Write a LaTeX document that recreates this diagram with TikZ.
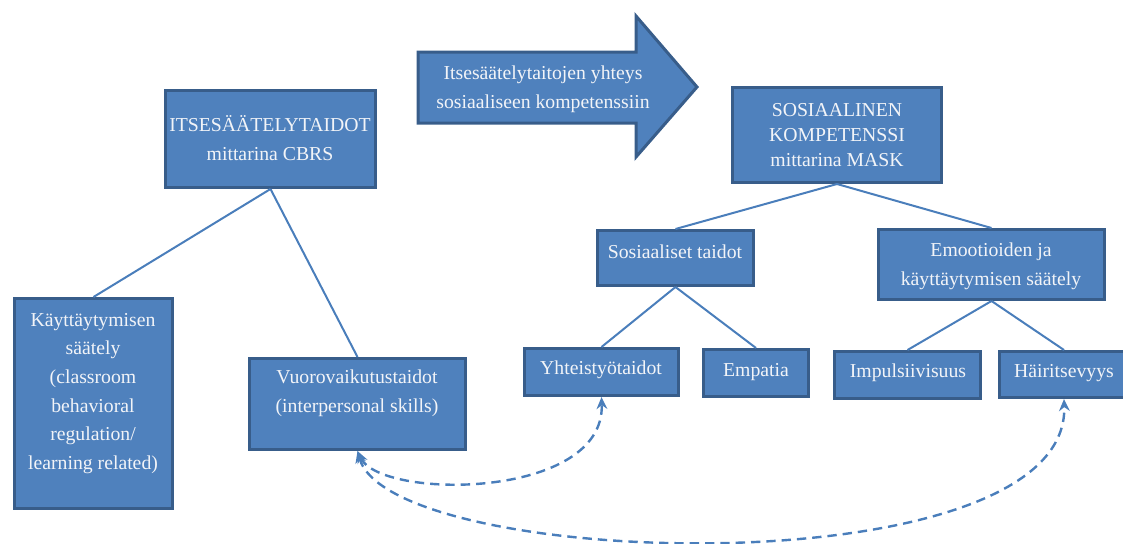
\documentclass[tikz,border=0pt]{standalone}
\usepackage{fontspec}
\setmainfont{Liberation Serif}
\usetikzlibrary{arrows.meta}
\definecolor{boxfill}{HTML}{4F81BD}
\definecolor{boxline}{HTML}{385D8A}
\definecolor{linkcol}{HTML}{4A7EBB}
\definecolor{txtcol}{HTML}{F2F4F8}
\newcommand\mybox[5]{\node[boxshape, minimum width={(#3-#1-3)*0.75pt}, minimum height={(#4-#2-3)*0.75pt}] (#5) at ({(#1+#3)/2},{(#2+#4)/2}) {};}
\begin{document}
\begin{tikzpicture}[x=0.75pt,y=-0.75pt,
  boxshape/.style={draw=boxline,fill=boxfill,line width=2.25pt,inner sep=0pt,rectangle},
  txt/.style={text=txtcol,align=center,font=\fontsize{14.8}{21.5}\selectfont,inner sep=0pt},
  link/.style={draw=linkcol,line width=1.5pt},
  dlink/.style={draw=linkcol,line width=1.8pt,dash pattern=on 7pt off 4.5pt,{Stealth[length=9pt,width=8pt]}-{Stealth[length=9pt,width=8pt]}}]
\useasboundingbox (0,0) rectangle (1123,543);
% big arrow
\draw[draw=boxline,fill=boxfill,line width=2.25pt,line join=miter]
  (418,52) -- (636,52) -- (636,16) -- (697,87) -- (636,157) -- (636,123) -- (418,123) -- cycle;
\node[txt] (arrowtxt) at (543,89.5) {Itsesäätelytaitojen yhteys\\sosiaaliseen kompetenssiin};
% boxes
\mybox{164}{89}{377}{189}{itse}
\mybox{13}{297}{174}{510}{kay}
\mybox{248}{357}{467}{451}{vuoro}
\mybox{731}{86}{943}{184}{sos}
\mybox{596}{229}{755}{287}{sost}
\mybox{877}{228}{1106}{301}{emo}
\mybox{523}{347}{680}{397}{yht}
\mybox{702}{348}{810}{398}{emp}
\mybox{833}{350}{982}{400}{imp}
\mybox{998}{350}{1130}{399}{hai}
% texts
\node[txt] (itse-t) at (270,138) {ITSESÄÄTELYTAIDOT\\mittarina CBRS};
\node[txt] (kay-t) at (93,393.5) {Käyttäytymisen\\säätely\\(classroom\\behavioral\\regulation/\\learning related)};
\node[txt] (vuoro-t) at (357,393.5) {Vuorovaikutustaidot\\(interpersonal skills)};
\node[txt,font=\fontsize{14.8}{18.75}\selectfont] (sos-t) at (837,135) {SOSIAALINEN\\KOMPETENSSI\\mittarina MASK};
\node[txt] (sost-t) at (675,252) {Sosiaaliset taidot};
\node[txt] (emo-t) at (991,266.5) {Emootioiden ja\\käyttäytymisen säätely};
\node[txt] (yht-t) at (601,370) {Yhteistyötaidot};
\node[txt] (emp-t) at (756,372) {Empatia};
\node[txt] (imp-t) at (908,373) {Impulsiivisuus};
\node[txt] (hai-t) at (1064,373) {Häiritsevyys};
% connectors
\draw[link] (itse.south) -- (kay.north);
\draw[link] (itse.south) -- (vuoro.north);
\draw[link] (sos.south) -- (sost.north);
\draw[link] (sos.south) -- (emo.north);
\draw[link] (sost.south) -- (yht.north);
\draw[link] (sost.south) -- (emp.north);
\draw[link] (emo.south) -- (imp.north);
\draw[link] (emo.south) -- (hai.north);
% dashed links
\draw[dlink] (vuoro.south) .. controls (380,500) and (605,500) .. (yht.south);
\draw[dlink] (vuoro.south) .. controls (390,570) and (1070,590) .. (hai.south);
\end{tikzpicture}
\end{document}
